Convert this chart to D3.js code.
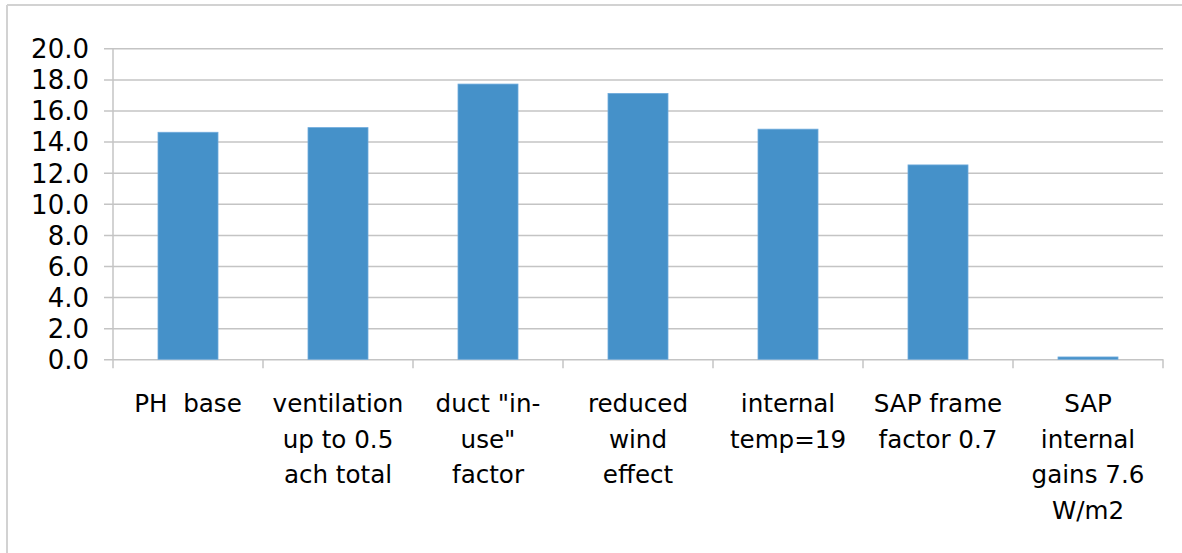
<!DOCTYPE html>
<html>
<head>
<meta charset="utf-8">
<script src="https://cdn.jsdelivr.net/npm/d3@7"></script>
<style>
  html, body { margin: 0; padding: 0; background: #fff; }
  svg { display: block; }
  text { white-space: pre; }
</style>
</head>
<body>
<svg id="chart" width="1182" height="553"></svg>
<script>
const categories = [
  ["PH  base"],
  ["ventilation", "up to 0.5", "ach total"],
  ["duct \"in-", "use\"", "factor"],
  ["reduced", "wind", "effect"],
  ["internal", "temp=19"],
  ["SAP frame", "factor 0.7"],
  ["SAP", "internal", "gains 7.6", "W/m2"]
];
const values = [14.6, 14.9, 17.7, 17.1, 14.8, 12.5, 0.15];
const yTicks = [0, 2, 4, 6, 8, 10, 12, 14, 16, 18, 20];

(function () {
const svg = d3.select("#chart");
const W = 1182, H = 553;
const pLeft = 113, pRight = 1163, pTop = 48.3, pBottom = 359.3;
const font = "'DejaVu Sans', sans-serif";

// outer border (top and left visible)
svg.append("line").attr("x1", 7).attr("x2", W).attr("y1", 5).attr("y2", 5)
  .attr("stroke", "#d2d2d2").attr("stroke-width", 2);
svg.append("line").attr("x1", 7).attr("x2", 7).attr("y1", 5).attr("y2", H)
  .attr("stroke", "#d2d2d2").attr("stroke-width", 2);

const idx = d3.range(categories.length);
const x = d3.scaleBand().domain(idx).range([pLeft, pRight]).paddingInner(0.6).paddingOuter(0.3);
const y = d3.scaleLinear().domain([0, 20]).range([pBottom, pTop]);

// gridlines with tick extension to the left
const yAxis = d3.axisLeft(y).tickValues(yTicks)
  .tickSize(-(pRight - pLeft)).tickFormat(d3.format(".1f")).tickPadding(24);
const gy = svg.append("g").attr("transform", `translate(${pLeft},0)`).call(yAxis);
gy.select(".domain").remove();
gy.selectAll(".tick line").attr("stroke", "#c4c4c4").attr("stroke-width", 1.5)
  .attr("x1", -9);
gy.selectAll(".tick text").attr("font-family", font).attr("font-size", 26)
  .attr("fill", "#000").attr("dy", "0.36em");

// vertical axis line
svg.append("line").attr("x1", pLeft).attr("x2", pLeft).attr("y1", pTop).attr("y2", pBottom)
  .attr("stroke", "#c4c4c4").attr("stroke-width", 1.5);

// category boundary ticks
const bounds = d3.range(categories.length + 1).map(i => pLeft + i * x.step());
svg.append("g").selectAll("line").data(bounds).join("line")
  .attr("x1", d => d).attr("x2", d => d).attr("y1", pBottom).attr("y2", pBottom + 9)
  .attr("stroke", "#c4c4c4").attr("stroke-width", 1.5);

// bars
svg.append("g").selectAll("rect").data(values).join("rect")
  .attr("x", (d, i) => x(i))
  .attr("width", x.bandwidth())
  .attr("y", d => y(d))
  .attr("height", d => y(0) - y(d))
  .attr("fill", "#4591c9")
  .attr("stroke", "#6fabdc")
  .attr("stroke-width", 0.8);

// category labels
const gl = svg.append("g");
categories.forEach((lines, i) => {
  const cx = x(i) + x.bandwidth() / 2;
  const t = gl.append("text")
    .attr("x", cx)
    .attr("y", 412)
    .attr("text-anchor", "middle")
    .attr("font-family", font)
    .attr("font-size", 24.6)
    .attr("fill", "#000")
    .attr("xml:space", "preserve");
  lines.forEach((ln, j) => {
    t.append("tspan").attr("x", cx).attr("y", 412 + j * 35.7).text(ln);
  });
});
})();
</script>
</body>
</html>
